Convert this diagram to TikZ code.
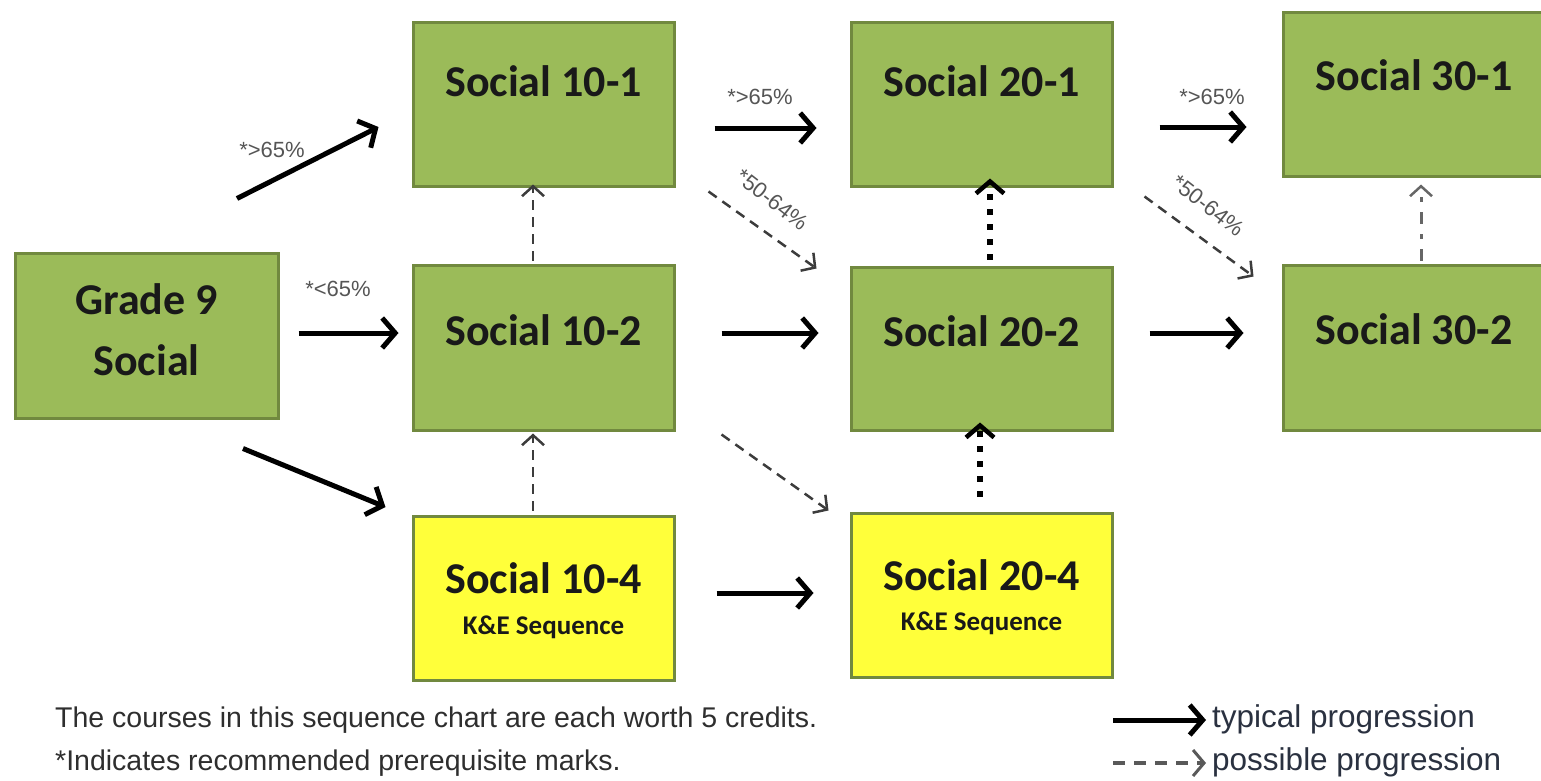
\documentclass[tikz,border=0pt]{standalone}
\usepackage{fontspec}
\setmainfont{Liberation Sans}
\newfontfamily\boxfont{Carlito}
\usetikzlibrary{arrows.meta}
\definecolor{gfill}{HTML}{9BBB59}
\definecolor{gline}{HTML}{71893F}
\definecolor{yfill}{HTML}{FFFF3A}
\definecolor{lblgray}{HTML}{555555}
\definecolor{dashgray}{HTML}{3C3C3C}
\definecolor{legtext}{HTML}{2A3140}
\begin{document}
\begin{tikzpicture}[x=1pt,y=-1pt,
  gbox/.style={draw=gline, line width=3pt, fill=gfill, minimum width=261pt, minimum height=164pt, inner sep=0pt},
  ybox/.style={gbox, fill=yfill},
  btext/.style={font=\boxfont\bfseries\fontsize{44}{48}\selectfont, text=black!90, inner sep=0pt},
  stext/.style={font=\boxfont\bfseries\fontsize{27}{30}\selectfont, text=black!90, inner sep=0pt},
  lbl/.style={font=\fontsize{22}{24}\selectfont, text=lblgray, inner sep=0pt},
  note/.style={font=\fontsize{28.5}{31}\selectfont, text=black!82, inner sep=0pt, anchor=west},
  legt/.style={font=\fontsize{31.5}{34}\selectfont, text=legtext, inner sep=0pt, anchor=west},
  typ/.style={line width=5pt, black, -{Straight Barb[length=13pt,width=30pt,line width=5pt]}},
  poss/.style={line width=2.5pt, dashgray, dash pattern=on 10pt off 7pt, -{Straight Barb[length=10pt,width=22pt,line width=2.5pt]}},
  dotty/.style={line width=6pt, black, dash pattern=on 6pt off 9pt, -{Straight Barb[length=12pt,width=28pt,line width=4.5pt]}},
  dashdot/.style={line width=3pt, black!60, dash pattern=on 12pt off 10pt on 5pt off 10pt, -{Straight Barb[length=10pt,width=22pt,line width=2.5pt]}}
]
\useasboundingbox (0,0) rectangle (1541,780);

% boxes
\node[gbox, minimum width=263pt, minimum height=165pt] (g9) at (146.5,335.5) {};
\node[gbox] (s101) at (543.5,104) {};
\node[gbox, minimum height=165pt] (s102) at (543.5,347.5) {};
\node[ybox] (s104) at (543.5,598) {};
\node[gbox] (s201) at (981.5,104) {};
\node[gbox, minimum height=163pt] (s202) at (981.5,348.5) {};
\node[ybox] (s204) at (981.5,595) {};
\node[gbox, minimum width=262pt] (s301) at (1414,94) {};
\node[gbox, minimum width=262pt, minimum height=165pt] (s302) at (1414,347.5) {};

% box texts
\node[btext] (t9a) at (146.5,299) {Grade 9};
\node[btext] (t9b) at (146.5,360) {Social};
\node[btext] (t101) at (543.5,81) {Social 10-1};
\node[btext] (t102) at (543.5,330) {Social 10-2};
\node[btext] (t104) at (543.5,578) {Social 10-4};
\node[stext] (k104) at (543.5,627) {K\&E Sequence};
\node[btext] (t201) at (981.5,81) {Social 20-1};
\node[btext] (t202) at (981.5,331) {Social 20-2};
\node[btext] (t204) at (981.5,575) {Social 20-4};
\node[stext] (k204) at (981.5,623) {K\&E Sequence};
\node[btext] (t301) at (1414,75) {Social 30-1};
\node[btext] (t302) at (1414,329) {Social 30-2};

% connectors
\draw[typ] ([shift={(90.5,-53)}]g9.north) -- ([shift={(-33,23)}]s101.west);
\draw[typ] ([shift={(19,-2.5)}]g9.east) -- ([shift={(-13,-14.5)}]s102.west);
\draw[typ] ([shift={(96.5,29)}]g9.south) -- ([shift={(-26,-91)}]s104.west);
\draw[typ] ([shift={(39,24)}]s101.east) -- ([shift={(-33,24)}]s201.west);
\draw[poss] ([shift={(33,4)}]s101.south east) -- ([shift={(-33,3)}]s202.north west);
\draw[poss] ([shift={(-10.5,-3)}]s102.north) -- ([shift={(-10.5,-3)}]s101.south);
\draw[typ] ([shift={(46,-14.5)}]s102.east) -- ([shift={(-31,-15.5)}]s202.west);
\draw[poss] ([shift={(46,3)}]s102.south east) -- ([shift={(-21,-1)}]s204.north west);
\draw[poss] ([shift={(-10.5,-4)}]s104.north) -- ([shift={(-10.5,2)}]s102.south);
\draw[typ] ([shift={(41,-5)}]s104.east) -- ([shift={(-36,-2)}]s204.west);
\draw[dotty] ([shift={(8.5,-6)}]s202.north) -- ([shift={(8.5,-9)}]s201.south);
\draw[dotty] ([shift={(-1.5,-15)}]s204.north) -- ([shift={(-1.5,-9)}]s202.south);
\draw[typ] ([shift={(46,23)}]s201.east) -- ([shift={(-35,33)}]s301.west);
\draw[poss] ([shift={(31,9)}]s201.south east) -- ([shift={(-28,13)}]s302.north west);
\draw[typ] ([shift={(36,-15.5)}]s202.east) -- ([shift={(-38,-14.5)}]s302.west);
\draw[dashdot] ([shift={(7,-3)}]s302.north) -- ([shift={(7,7)}]s301.south);

% arrow labels
\node[lbl] (l1) at (272,150) {*>65\%};
\node[lbl] (l2) at (338,289) {*<65\%};
\node[lbl] (l3) at (760,97) {*>65\%};
\node[lbl, rotate=-38] (l4) at (772,200) {*50-64\%};
\node[lbl] (l5) at (1212,97) {*>65\%};
\node[lbl, rotate=-38] (l6) at (1208,206) {*50-64\%};

% notes
\node[note] (n1) at (55,720) {The courses in this sequence chart are each worth 5 credits.};
\node[note] (n2) at (55,763) {*Indicates recommended prerequisite marks.};

% legend
\node[legt] (lt) at (1212,719) {typical progression};
\node[legt] (lp) at (1212,762) {possible progression};
\coordinate (lta) at (1113,720);
\coordinate (lpa) at (1113,763);
\draw[typ] (lta) -- ([xshift=-6pt,yshift=-1pt]lt.west);
\draw[line width=4pt, black!65, dash pattern=on 12pt off 9pt, -{Straight Barb[length=11pt,width=26pt,line width=3pt]}] (lpa) -- ([xshift=-6pt,yshift=-1pt]lp.west);
\end{tikzpicture}
\end{document}
